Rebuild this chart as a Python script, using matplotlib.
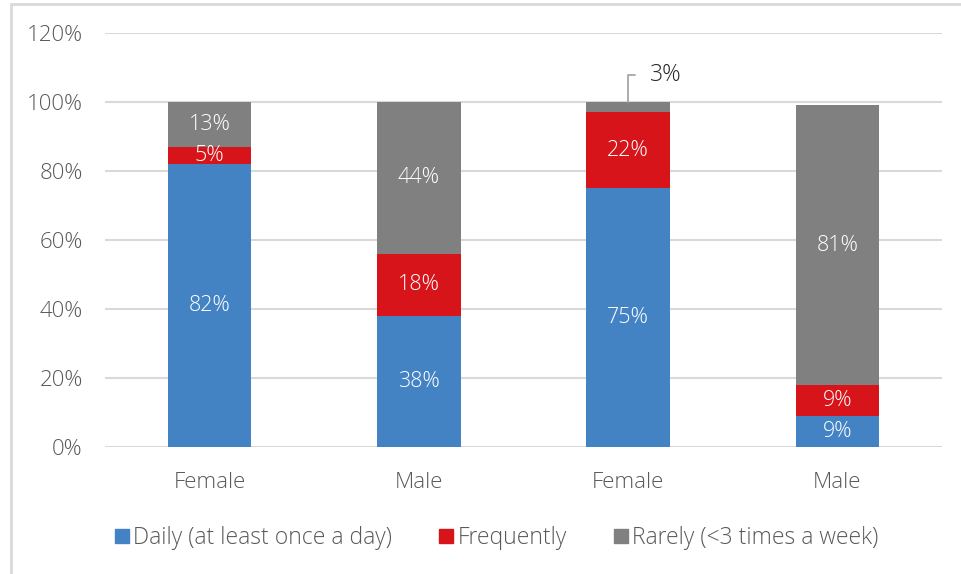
import matplotlib.pyplot as plt
from matplotlib.patches import Rectangle
from matplotlib.lines import Line2D

plt.rcParams['font.family'] = ['Open Sans', 'DejaVu Sans']
plt.rcParams['font.weight'] = 'light'

# Данные
categories = ['Female', 'Male', 'Female', 'Male']
daily = [82, 38, 75, 9]
frequently = [5, 18, 22, 9]
rarely = [13, 44, 3, 81]
series_names = ['Daily (at least once a day)', 'Frequently', 'Rarely (<3 times a week)']
colors = ['#4383c4', '#d7141a', '#808080']
yticks = [0, 20, 40, 60, 80, 100, 120]

W, H = 961, 574
fig = plt.figure(figsize=(W / 100, H / 100), dpi=100)
ax = fig.add_axes([105 / W, 1 - 447 / H, (942 - 105) / W, (447 - 33) / H])

# рамка вокруг диаграммы
fig.patches.append(Rectangle((11 / W, -0.1), 1.2, 1 - 4 / H + 0.1, transform=fig.transFigure,
                             fill=False, edgecolor='#d9d9d9', linewidth=2))

x = list(range(len(categories)))
bottoms = [0] * len(categories)
for vals, name, col in zip([daily, frequently, rarely], series_names, colors):
    ax.bar(x, vals, bottom=bottoms, width=0.4, color=col, label=name, zorder=3)
    for i, (b, v) in enumerate(zip(bottoms, vals)):
        if v >= 5:
            ax.text(i, b + v / 2, f'{v}%', ha='center', va='center', color='white',
                    fontsize=15.5, zorder=4)
    bottoms = [b + v for b, v in zip(bottoms, vals)]

# выноска для 3%
ax.annotate(f'{rarely[2]}%', xy=(2, bottoms[2]), xytext=(2.105, 107.8), ha='left', va='center',
            fontsize=16.5, color='#262626',
            arrowprops=dict(arrowstyle='-', color='#a6a6a6', lw=1.3, shrinkA=9, shrinkB=0,
                            connectionstyle='angle,angleA=0,angleB=90,rad=0'))

ax.set_xlim(-0.5, 3.5)
ax.set_ylim(0, 120)
ax.set_yticks(yticks)
ax.set_yticklabels([f'{t}%' for t in yticks])
ax.set_xticks(x)
ax.set_xticklabels(categories)
ax.tick_params(axis='both', length=0, labelsize=16, labelcolor='#595959')
ax.tick_params(axis='y', pad=16)
ax.tick_params(axis='x', pad=18)
ax.grid(axis='y', color='#d9d9d9', linewidth=1.5, zorder=0)
for s in ax.spines.values():
    s.set_visible(False)

handles = [Line2D([], [], marker='s', linestyle='', markersize=10, color=c) for c in colors]
fig.legend(handles, series_names, loc='center', bbox_to_anchor=(496 / W, 1 - 538 / H), ncol=3,
           frameon=False, fontsize=16.5, labelcolor='#595959', handletextpad=0.15,
           columnspacing=2.0, handlelength=0.7)

plt.savefig('out.png', dpi=100)
